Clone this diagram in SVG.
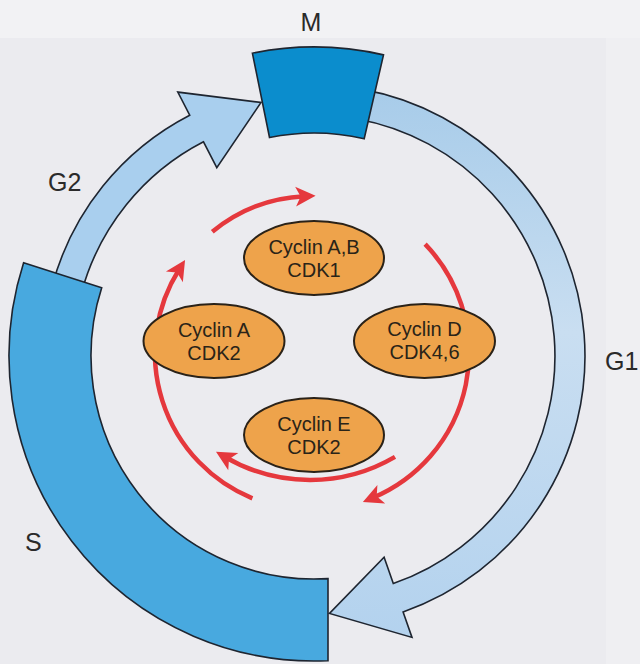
<svg xmlns="http://www.w3.org/2000/svg" width="640" height="664" viewBox="0 0 640 664">
  <defs>
    <style>
      .phase { font-family: "Liberation Sans", Arial, sans-serif; font-size: 25px; fill: #2a2a2a; }
      .lbl { font-family: "Liberation Sans", Arial, sans-serif; font-size: 20px; fill: #2a2418; text-anchor: middle; }
      .ring { stroke: #1e2530; stroke-width: 1.6; stroke-linejoin: miter; }
      .band { fill: #a9cfee; }
      .sseg { fill: #48a9df; }
      .mseg { fill: #0b8dcd; }
      .cdk { fill: #eea34b; stroke: #2a2218; stroke-width: 2; }
      .flow { fill: none; stroke: #e5383d; stroke-width: 4.5; stroke-linecap: butt; }
    </style>
    <linearGradient id="g1fill" x1="0" y1="80" x2="0" y2="640" gradientUnits="userSpaceOnUse">
      <stop offset="0" stop-color="#a6cbe9"/>
      <stop offset="0.45" stop-color="#c9def1"/>
      <stop offset="1" stop-color="#b3d2ee"/>
    </linearGradient>
    <marker id="head" viewBox="-12 -12 24 24" markerWidth="24" markerHeight="24" refX="0" refY="0" orient="auto" markerUnits="userSpaceOnUse">
      <path d="M11,0 L-9,-10 L-4,0 L-9,10 Z" fill="#e5383d"/>
    </marker>
  </defs>

  <!-- page background -->
  <rect width="640" height="664" fill="#ebebef"/>
  <rect width="640" height="38" fill="#f2f2f4"/>
  <rect x="606" y="38" width="34" height="626" fill="#efeff2"/>

  <!-- phase labels -->
  <text class="phase" x="311" y="31" text-anchor="middle">M</text>
  <text class="phase" x="48" y="191">G2</text>
  <text class="phase" x="605" y="370">G1</text>
  <text class="phase" x="25" y="551">S</text>

  <!-- cell-cycle ring -->
  <g id="g1-phase">
    <path class="ring" fill="url(#g1fill)" d="M361.1,89.1 A271,271 0 0 1 403.1,611.9 L412.0,637.4 L329.5,613.4 L384.1,557.2 L393.3,583.6 A241,241 0 0 0 355.8,118.7 Z"/>
  </g>
  <g id="g2-phase">
    <path class="ring band" d="M52.2,285.9 A271,271 0 0 1 189.7,115.2 L177.8,92.1 L261.0,102.5 L216.8,167.6 L203.5,141.8 A241,241 0 0 0 81.2,293.6 Z"/>
  </g>
  <g id="s-phase">
    <path class="ring sseg" d="M328,578.6 L328,660.7 A305,305 0 0 1 23.6,262.8 L101.7,287.8 A223,223 0 0 0 328,578.6 Z"/>
  </g>
  <g id="m-phase">
    <path class="ring mseg" d="M252.4,53.2 A309,309 0 0 1 383.5,54.9 L364.2,138.7 A223,223 0 0 0 269.5,137.5 Z"/>
  </g>

  <!-- cyclin/CDK succession arrows -->
  <g id="connectors">
    <path class="flow" marker-end="url(#head)" d="M212.3,231.7 A157,157 0 0 1 304.6,196.2"/>
    <path class="flow" marker-end="url(#head)" d="M425.1,244.1 A157,157 0 0 1 373.0,497.7"/>
    <path class="flow" marker-end="url(#head)" d="M395.0,456.9 A168,168 0 0 1 225.5,457.2"/>
    <path class="flow" marker-end="url(#head)" d="M252.4,498.3 A157,157 0 0 1 179.2,269.2"/>
  </g>

  <!-- cyclin/CDK complexes -->
  <g id="cyclin-ab">
    <ellipse class="cdk" cx="314" cy="258" rx="70" ry="37"/>
    <text class="lbl" x="314" y="254">Cyclin A,B</text>
    <text class="lbl" x="314" y="277">CDK1</text>
  </g>
  <g id="cyclin-a">
    <ellipse class="cdk" cx="214" cy="341" rx="70.5" ry="37"/>
    <text class="lbl" x="214" y="337">Cyclin A</text>
    <text class="lbl" x="214" y="360">CDK2</text>
  </g>
  <g id="cyclin-d">
    <ellipse class="cdk" cx="424.5" cy="341" rx="70.5" ry="37"/>
    <text class="lbl" x="424.5" y="336">Cyclin D</text>
    <text class="lbl" x="424.5" y="359">CDK4,6</text>
  </g>
  <g id="cyclin-e">
    <ellipse class="cdk" cx="314" cy="435" rx="70" ry="37"/>
    <text class="lbl" x="314" y="431">Cyclin E</text>
    <text class="lbl" x="314" y="454">CDK2</text>
  </g>
</svg>
